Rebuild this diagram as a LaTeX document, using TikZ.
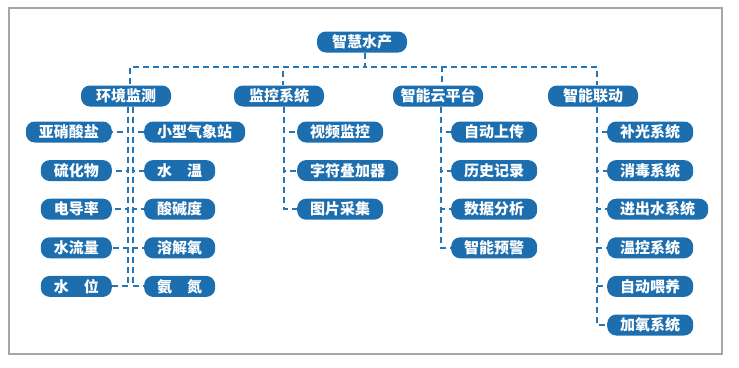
\documentclass[tikz,border=0pt]{standalone}
\usepackage{fontspec}
\newfontfamily\cjk{Noto Sans CJK SC}
\definecolor{boxblue}{RGB}{28,110,175}
\definecolor{lineblue}{RGB}{38,118,182}
\tikzset{
  item/.style={fill=boxblue,text=white,rounded corners=9pt,inner xsep=13pt,inner ysep=0pt,
    minimum height=21pt,font=\cjk\bfseries\fontsize{15}{15}\selectfont},
  head/.style={item,minimum width=90pt,inner xsep=4pt},
  link/.style={draw=lineblue,line width=2pt,dash pattern=on 6pt off 4pt}
}
\begin{document}
\begin{tikzpicture}[x=1pt,y=-1pt]
  \useasboundingbox (0,0) rectangle (739,367);
  \draw[gray!70,line width=2pt] (9,8) rectangle (722,354);
  % top level
  \node[head] (root) at (362,42) {智慧水产};
  \node[head] (env) at (126,96) {环境监测};
  \node[head] (mon) at (279,96) {监控系统};
  \node[head] (cloud) at (438,96) {智能云平台};
  \node[head] (ctrl) at (593,96) {智能联动};
  \foreach \n in {env,mon,cloud,ctrl}
    \draw[link] ([xshift=3pt]root.south) -- ++(0,14) -| ([xshift=4pt]\n.north);
  % second level
  \foreach \t [count=\i] in {视频监控,字符叠加器,图片采集}
    \node[item,anchor=west] (mon\i) at (297,{132+38.6*(\i-1)}) {\t};
  \foreach \t [count=\i] in {自动上传,历史记录,数据分析,智能预警}
    \node[item,anchor=west] (cloud\i) at (451,{132+38.6*(\i-1)}) {\t};
  \foreach \t [count=\i] in {补光系统,消毒系统,进出水系统,温控系统,自动喂养,加氧系统}
    \node[item,anchor=west] (ctrl\i) at (607,{132+38.6*(\i-1)}) {\t};
  \foreach \t [count=\i] in {亚硝酸盐,硫化物,电导率,水流量,水\hspace{1em}位}
    \node[item,anchor=east] (envl\i) at (112,{132+38.6*(\i-1)}) {\t};
  \foreach \t [count=\i] in {小型气象站,水\hspace{1em}温,酸碱度,溶解氧,氨\hspace{1em}氮}
    \node[item,anchor=west] (envr\i) at (144,{132+38.6*(\i-1)}) {\t};
  \foreach \i in {1,...,3} \draw[link] ([xshift=5pt]mon.south) |- (mon\i.west);
  \foreach \i in {1,...,4} \draw[link] ([xshift=3pt]cloud.south) |- (cloud\i.west);
  \foreach \i in {1,...,6} \draw[link] ([xshift=4pt]ctrl.south) |- (ctrl\i.west);
  \foreach \i in {1,...,5} {
    \draw[link] ([xshift=2pt]env.south) |- (envl\i.east);
    \draw[link] ([xshift=7pt]env.south) |- (envr\i.west);
  }
\end{tikzpicture}
\end{document}
